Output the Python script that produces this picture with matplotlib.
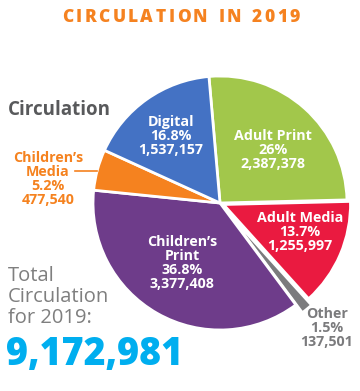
import matplotlib
matplotlib.use('Agg')
import matplotlib.pyplot as plt

plt.rcParams['font.family'] = ['Open Sans', 'DejaVu Sans']

# data
names = ['Adult Print', 'Adult Media', 'Other', "Children\u2019s\nPrint", "Children\u2019s\nMedia", 'Digital']
shares = [26.0, 13.7, 1.5, 36.8, 5.2, 16.8]
counts = [2387378, 1255997, 137501, 3377408, 477540, 1537157]
colors = ['#A2C74B', '#EA1A40', '#7B7B7D', '#6E3C8A', '#F5821F', '#4472C4']
total = 9172981
title = 'CIRCULATION IN 2019'

W, H = 360, 391
fig = plt.figure(figsize=(W / 100, H / 100), dpi=100)

def px(x, y):
    return x / W, 1 - y / H

# pie axes: centre (220, 203), radius 127 px
cx, cy, r = 220, 203, 127
ax = fig.add_axes([(cx - r) / W, (H - cy - r) / H, 2 * r / W, 2 * r / H])
ax.pie(shares, colors=colors, startangle=95, counterclock=False,
       explode=[0, 0.03, 0.08, 0, 0, 0],
       wedgeprops=dict(edgecolor='white', linewidth=2))
ax.set_xlim(-1, 1)
ax.set_ylim(-1, 1)
ax.axis('off')

def lab(i, share_txt):
    return '%s\n%s\n%s' % (names[i], share_txt, format(counts[i], ','))

fs = 10.3
kw = dict(fontsize=fs, fontweight='bold', ha='center', va='center', linespacing=1.0)
# labels inside slices
fig.text(*px(273, 150), lab(0, '26%'), color='white', **kw)
fig.text(*px(300, 232), lab(1, '13.7%'), color='white', **kw)
fig.text(*px(182, 263), lab(3, '36.8%'), color='white', **kw)
fig.text(*px(171, 136), lab(5, '16.8%'), color='white', **kw)

# outside labels
fig.text(*px(48, 179), lab(4, '5.2%'), color=colors[4], **kw)
fig.add_artist(plt.Line2D([75 / W, 97 / W], [1 - 171 / H, 1 - 171 / H], color=colors[4], lw=1.2))
fig.text(*px(327, 328), lab(2, '1.5%'), color=colors[2], **kw)
fig.add_artist(plt.Line2D([299 / W, 305 / W], [1 - 300 / H, 1 - 307 / H], color=colors[2], lw=1))

# title with letter spacing, drawn char by char
renderer = fig.canvas.get_renderer()
tkw = dict(color='#F58220', fontsize=12.5, fontweight='heavy', ha='left', va='center')
widths = []
for ch in title:
    if ch == ' ':
        widths.append(None)
        continue
    t = fig.text(0, 0, ch, **tkw)
    widths.append(t.get_window_extent(renderer).width)
    t.remove()
track, gap = 2.5, 8
full = sum(w + track if w else gap for w in widths) - track
x = 181 - full / 2
for ch, w in zip(title, widths):
    if w is None:
        x += gap
        continue
    fig.text(*px(x, 17), ch, **tkw)
    x += w + track

fig.text(*px(8, 110), 'Circulation', color='#58595B', fontsize=13.5, fontweight='bold',
         ha='left', va='center')
fig.text(*px(8, 297), 'Total\nCirculation\nfor 2019:', color='#7F7F7F', fontsize=14.5,
         fontweight='normal', ha='left', va='center', linespacing=1.05)
fig.text(*px(6, 355), format(total, ','), color='#00AEEF', fontsize=27, fontweight='heavy',
         ha='left', va='center')

fig.savefig('out.png', dpi=100)
